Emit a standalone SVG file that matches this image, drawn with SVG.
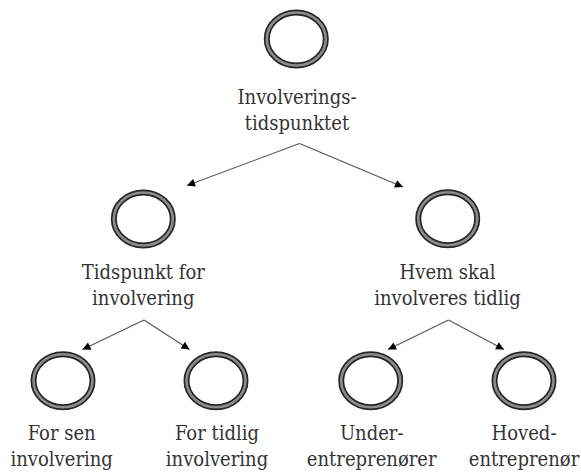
<svg xmlns="http://www.w3.org/2000/svg" width="581" height="472" viewBox="0 0 581 472">
  <defs>
    <style>
      .ring-outer { fill: #ffffff; stroke: #262626; stroke-width: 6; }
      .ring-inner { fill: none; stroke: #8c8c8c; stroke-width: 2.6; }
      .label { font-family: 'DejaVu Serif Condensed', 'DejaVu Serif', serif; font-stretch: condensed; font-size: 20px; fill: #333333; text-anchor: middle; }
      .edge { stroke: #555555; stroke-width: 1.1; fill: none; marker-end: url(#arrow); }
    </style>
    <marker id="arrow" viewBox="0 0 10 10" refX="10" refY="5" markerWidth="10" markerHeight="8" markerUnits="userSpaceOnUse" orient="auto">
      <path d="M0,0 L10,5 L0,10 Z" fill="#000000"/>
    </marker>
    <g id="ring">
      <ellipse class="ring-outer" cx="0" cy="0" rx="29.5" ry="26.5"/>
      <ellipse class="ring-inner" cx="0" cy="0" rx="29.5" ry="26.5"/>
    </g>
  </defs>

  <rect width="581" height="472" fill="#ffffff"/>

  <!-- connectors -->
  <g id="connectors">
    <line class="edge" x1="299.5" y1="143.5" x2="187" y2="185.5"/>
    <line class="edge" x1="299.5" y1="143.5" x2="403" y2="187"/>
    <line class="edge" x1="144" y1="320" x2="82.5" y2="349.5"/>
    <line class="edge" x1="144" y1="320" x2="189.5" y2="349.5"/>
    <line class="edge" x1="448.5" y1="320" x2="388" y2="349.5"/>
    <line class="edge" x1="448.5" y1="320" x2="504" y2="349.5"/>
  </g>

  <!-- root -->
  <g id="node-root">
    <use href="#ring" x="296.3" y="39"/>
    <text class="label" x="297" y="103.5">Involverings-</text>
    <text class="label" x="297" y="130">tidspunktet</text>
  </g>

  <!-- second level -->
  <g id="node-tidspunkt">
    <use href="#ring" x="143.3" y="219"/>
    <text class="label" x="143.3" y="278.5">Tidspunkt for</text>
    <text class="label" x="143.3" y="305">involvering</text>
  </g>
  <g id="node-hvem">
    <use href="#ring" x="447.7" y="218.7"/>
    <text class="label" x="447.5" y="278.5">Hvem skal</text>
    <text class="label" x="447.5" y="305">involveres tidlig</text>
  </g>

  <!-- leaves -->
  <g id="node-sen">
    <use href="#ring" x="63" y="380.7"/>
    <text class="label" x="61.7" y="439.5">For sen</text>
    <text class="label" x="61.7" y="466">involvering</text>
  </g>
  <g id="node-tidlig">
    <use href="#ring" x="216" y="380.7"/>
    <text class="label" x="217" y="439.5">For tidlig</text>
    <text class="label" x="217" y="466">involvering</text>
  </g>
  <g id="node-under">
    <use href="#ring" x="370.7" y="380.7"/>
    <text class="label" x="371.7" y="439.5">Under-</text>
    <text class="label" x="371.7" y="466">entreprenører</text>
  </g>
  <g id="node-hoved">
    <use href="#ring" x="524" y="380.7"/>
    <text class="label" x="524" y="439.5">Hoved-</text>
    <text class="label" x="524" y="466">entreprenør</text>
  </g>
</svg>
